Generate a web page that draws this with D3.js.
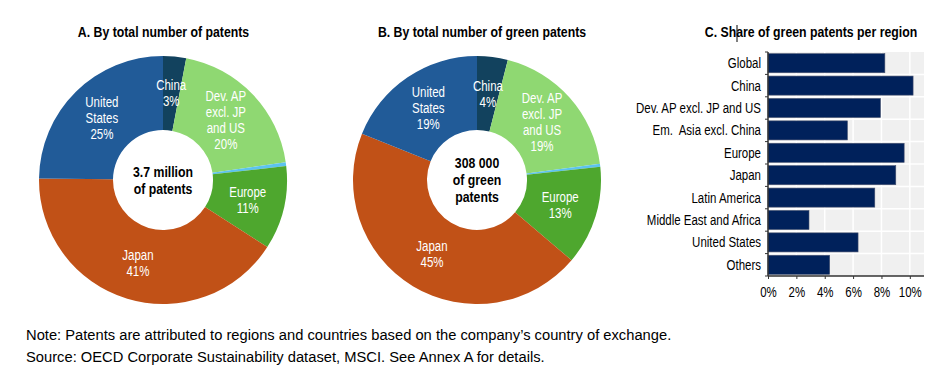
<!DOCTYPE html>
<html>
<head>
<meta charset="utf-8">
<script src="https://cdn.jsdelivr.net/npm/d3@7"></script>
<style>
  html, body { margin: 0; padding: 0; background: #fff; }
  svg { display: block; font-family: "Liberation Sans", Arial, sans-serif; }
  text { white-space: pre; }
</style>
</head>
<body>
<svg id="chart" width="952" height="381"></svg>
<script>
// ---------- DATA ----------
const pieCategories = ["China", "Dev. AP excl. JP and US", "Em. Asia excl. China", "Europe", "Japan", "United States"];
const pieLabelLines = [["China"], ["Dev. AP", "excl. JP", "and US"], [], ["Europe"], ["Japan"], ["United", "States"]];
const totalPatentShares = [3.0, 19.7, 0.5, 10.9, 41.1, 24.8];
const greenPatentShares = [4.0, 18.9, 0.4, 12.9, 44.9, 18.9];
const pieColors = ["#12425e", "#8fd872", "#5cc3ee", "#4ea72e", "#c15117", "#215b98"];
const centerTextA = ["3.7 million", "of patents"];
const centerTextB = ["308 000", "of green", "patents"];

const barCategories = ["Global", "China", "Dev. AP excl. JP and US", "Em.  Asia excl. China", "Europe", "Japan", "Latin America", "Middle East and Africa", "United States", "Others"];
const barValues = [8.24, 10.23, 7.93, 5.6, 9.6, 9.01, 7.53, 2.89, 6.35, 4.35];
const xTicks = [0, 2, 4, 6, 8, 10];

const titles = ["A. By total number of patents", "B. By total number of green patents", "C. Share of green patents per region"];
const noteLines = [
  "Note: Patents are attributed to regions and countries based on the company\u2019s country of exchange.",
  "Source: OECD Corporate Sustainability dataset, MSCI. See Annex A for details."
];

// ---------- HELPERS ----------
const SX = 0.82; // emulate Arial Narrow with horizontally condensed Liberation Sans
const svg = d3.select("#chart");

function ntext(parent, x, y, lines, opts) {
  const o = Object.assign({ size: 14, weight: "normal", anchor: "middle", fill: "#000", lh: 16, vcenter: true, sx: SX }, opts || {});
  const t = parent.append("text")
    .attr("transform", `translate(${x},${y}) scale(${o.sx},1)`)
    .attr("text-anchor", o.anchor)
    .attr("font-size", o.size)
    .attr("font-weight", o.weight)
    .attr("fill", o.fill);
  const y0 = o.vcenter ? -(lines.length - 1) * o.lh / 2 : 0;
  lines.forEach((s, k) => {
    t.append("tspan").attr("x", 0).attr("y", y0 + k * o.lh)
      .attr("dy", o.vcenter ? "0.35em" : 0).text(s);
  });
  return t;
}

// ---------- DONUTS ----------
function drawDonut(cx, cy, values, centerLines, title, titleX) {
  const g = svg.append("g").attr("transform", `translate(${cx},${cy})`);
  const pie = d3.pie().sort(null).value(d => d)(values);
  const arc = d3.arc().innerRadius(50).outerRadius(124);
  const labelArc = d3.arc().innerRadius(87).outerRadius(87);

  g.selectAll("path.slice").data(pie).enter().append("path")
    .attr("class", "slice")
    .attr("d", arc)
    .attr("fill", (d, i) => pieColors[i]);

  pie.forEach((d, i) => {
    const lines = pieLabelLines[i];
    if (!lines.length) return;
    const all = lines.concat([Math.round(values[i]) + "%"]);
    const [lx, ly] = labelArc.centroid(d);
    ntext(g, lx, ly, all, { size: 14, fill: "#ffffff", lh: 16 });
  });

  ntext(g, 0, 0, centerLines, { size: 15, weight: "bold", lh: 17 });

  ntext(svg, titleX, 37, [title], { size: 15, weight: "bold", vcenter: false });
}

drawDonut(163, 180, totalPatentShares, centerTextA, titles[0], 163.5);
drawDonut(477, 180, greenPatentShares, centerTextB, titles[1], 482);

// ---------- BAR CHART ----------
const plot = { left: 768, right: 924, top: 52, bottom: 276 };
const x = d3.scaleLinear().domain([0, 11]).range([plot.left, plot.right]);
const y = d3.scaleBand().domain(barCategories).range([plot.top, plot.bottom]).paddingInner(0.15).paddingOuter(0.075);
const yStep = y.step();

const bg = svg.append("g");
bg.append("rect")
  .attr("x", plot.left).attr("y", plot.top)
  .attr("width", plot.right - plot.left).attr("height", plot.bottom - plot.top)
  .attr("fill", "#f0f0f0");
bg.selectAll("line.vg").data(xTicks.slice(1)).enter().append("line")
  .attr("x1", d => x(d)).attr("x2", d => x(d))
  .attr("y1", plot.top).attr("y2", plot.bottom)
  .attr("stroke", "#ffffff").attr("stroke-width", 1.5);
bg.selectAll("line.hg").data(d3.range(1, barCategories.length)).enter().append("line")
  .attr("x1", plot.left).attr("x2", plot.right)
  .attr("y1", d => plot.top + d * yStep).attr("y2", d => plot.top + d * yStep)
  .attr("stroke", "#ffffff").attr("stroke-width", 1.5);

svg.append("g").selectAll("rect.bar").data(barValues).enter().append("rect")
  .attr("class", "bar")
  .attr("x", x(0))
  .attr("y", (d, i) => y(barCategories[i]))
  .attr("width", d => x(d) - x(0))
  .attr("height", y.bandwidth())
  .attr("fill", "#00215b")
  .attr("stroke", "#44506e")
  .attr("stroke-width", 0.6);

const ya = svg.append("g");
ya.append("line")
  .attr("x1", plot.left).attr("x2", plot.left)
  .attr("y1", plot.top).attr("y2", plot.bottom)
  .attr("stroke", "#333").attr("stroke-width", 1.5);
ya.selectAll("line.t").data(d3.range(0, barCategories.length + 1)).enter().append("line")
  .attr("x1", plot.left - 3).attr("x2", plot.left)
  .attr("y1", d => plot.top + d * yStep).attr("y2", d => plot.top + d * yStep)
  .attr("stroke", "#333").attr("stroke-width", 1);
barCategories.forEach(c => {
  ntext(ya, 761, y(c) + y.bandwidth() / 2, [c], { size: 14, anchor: "end" });
});

const xa = svg.append("g").attr("transform", `translate(0,${plot.bottom})`)
  .call(d3.axisBottom(x).tickValues(xTicks).tickFormat(d => d + "%").tickSize(3).tickPadding(8));
xa.select(".domain").attr("stroke", "#333").attr("stroke-width", 1.5).attr("d", `M${plot.left},0H${plot.right}`);
xa.selectAll(".tick line").attr("stroke", "#333");
xa.selectAll(".tick text").attr("font-size", 14).attr("fill", "#000")
  .attr("font-family", "Liberation Sans, Arial, sans-serif")
  .attr("transform", `scale(${SX},1)`);

ntext(svg, 811, 37, [titles[2]], { size: 15, weight: "bold", vcenter: false });
// text cursor artifact in title
svg.append("line")
  .attr("x1", 737).attr("x2", 737).attr("y1", 25).attr("y2", 42)
  .attr("stroke", "#000").attr("stroke-width", 1);

// ---------- NOTES ----------
noteLines.forEach((s, k) => {
  ntext(svg, 26, 340 + k * 22, [s], { size: 15.5, anchor: "start", vcenter: false, sx: 0.95 });
});
</script>
</body>
</html>
